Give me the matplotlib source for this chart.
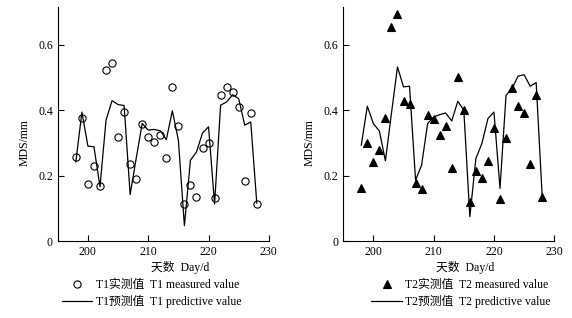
import numpy as np
import matplotlib
matplotlib.use('Agg')
import matplotlib.pyplot as plt
from matplotlib.ticker import FuncFormatter

plt.rcParams['font.family'] = ['Liberation Serif', 'Noto Sans CJK SC']
plt.rcParams['font.size'] = 8

days = np.arange(198, 229)

t1_measured = [0.256, 0.377, 0.174, 0.228, 0.169, 0.523, 0.544, 0.317, 0.395, 0.236,
               0.189, 0.359, 0.318, 0.303, 0.323, 0.254, 0.470, 0.352, 0.113, 0.172,
               0.136, 0.284, 0.301, 0.132, 0.447, 0.472, 0.455, 0.411, 0.183, 0.391,
               0.113]
t1_predicted = [0.242, 0.394, 0.290, 0.288, 0.166, 0.369, 0.429, 0.417, 0.414, 0.142,
                0.252, 0.359, 0.339, 0.341, 0.337, 0.310, 0.398, 0.308, 0.047, 0.247,
                0.272, 0.330, 0.349, 0.113, 0.415, 0.425, 0.447, 0.435, 0.354, 0.364,
                0.116]

t2_measured = [0.161, 0.301, 0.243, 0.278, 0.376, 0.654, 0.693, 0.427, 0.420, 0.178,
               0.158, 0.386, 0.374, 0.325, 0.352, 0.222, 0.502, 0.400, 0.119, 0.214,
               0.193, 0.244, 0.346, 0.128, 0.315, 0.469, 0.414, 0.390, 0.235, 0.445,
               0.134]
t2_predicted = [0.293, 0.412, 0.359, 0.336, 0.245, 0.390, 0.532, 0.471, 0.473, 0.186,
                0.232, 0.359, 0.379, 0.386, 0.391, 0.367, 0.427, 0.400, 0.074, 0.252,
                0.298, 0.374, 0.394, 0.161, 0.445, 0.466, 0.504, 0.508, 0.473, 0.484,
                0.135]

fig = plt.figure(figsize=(5.72, 3.18), dpi=100)
ax1 = fig.add_axes([0.101, 0.242, 0.369, 0.736])
ax2 = fig.add_axes([0.600, 0.242, 0.369, 0.736])

panels = [
    (ax1, t1_measured, t1_predicted, 'o', 'none', 5.2,
     'T1实测值  T1 measured value', 'T1预测值  T1 predictive value', 0.108),
    (ax2, t2_measured, t2_predicted, '^', 'black', 6,
     'T2实测值  T2 measured value', 'T2预测值  T2 predictive value', 0.649),
]

for ax, meas, pred, mk, fc, ms, lab_m, lab_p, lx in panels:
    h1, = ax.plot(days, meas, linestyle='none', marker=mk, markersize=ms,
                  markerfacecolor=fc, markeredgecolor='black', markeredgewidth=0.8,
                  label=lab_m)
    h2, = ax.plot(days, pred, color='black', linewidth=0.9, label=lab_p)
    ax.set_xlim(195, 230)
    ax.set_ylim(0, 0.715)
    ax.set_xticks([200, 210, 220, 230])
    ax.set_yticks([0, 0.2, 0.4, 0.6])
    ax.yaxis.set_major_formatter(FuncFormatter(lambda v, p: '0' if v == 0 else '%.1f' % v))
    ax.spines['top'].set_visible(False)
    ax.spines['right'].set_visible(False)
    ax.tick_params(direction='in', length=4, width=0.8, labelsize=8.5)
    ax.set_xlabel('天数  Day/d', fontsize=8.5)
    ax.xaxis.set_label_coords(0.58, -0.085)
    ax.set_ylabel('MDS/mm', fontsize=8.5)
    ax.yaxis.set_label_coords(-0.13, 0.42)
    fig.legend([h1, h2], [lab_m, lab_p], loc='upper left',
               bbox_to_anchor=(lx, 0.123), frameon=False, fontsize=8.5,
               handlelength=2.6, handletextpad=0.3, labelspacing=0.35,
               borderaxespad=0, borderpad=0)

fig.savefig('out.png', dpi=100)
